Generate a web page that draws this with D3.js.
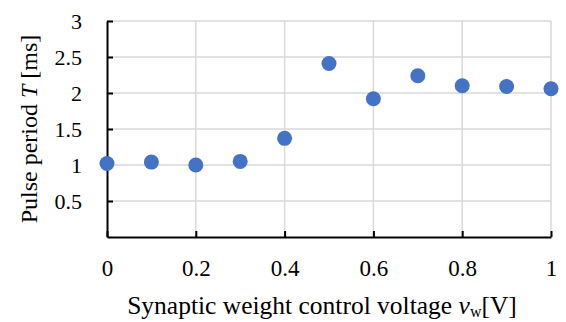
<!DOCTYPE html>
<html>
<head>
<meta charset="utf-8">
<script src="https://cdn.jsdelivr.net/npm/d3@7"></script>
<style>
  body { margin: 0; background: #fff; }
  text { font-family: "Liberation Serif", "Times New Roman", serif; fill: #000; }
</style>
</head>
<body>
<script>
// Datos
const voltajes = [0, 0.1, 0.2, 0.3, 0.4, 0.5, 0.6, 0.7, 0.8, 0.9, 1.0];
const periodos = [1.02, 1.04, 1.0, 1.05, 1.37, 2.41, 1.92, 2.24, 2.1, 2.09, 2.06];
const ticksX = [0, 0.2, 0.4, 0.6, 0.8, 1];
const ticksY = [0, 0.5, 1, 1.5, 2, 2.5, 3];

const WIDTH = 566;
const HEIGHT = 322;
const MARGIN = { top: 21, bottom: 85, left: 107, right: 15 };

const svg = d3.select("body")
  .append("svg")
  .attr("width", WIDTH)
  .attr("height", HEIGHT);

const escalaX = d3.scaleLinear().domain([0, 1]).range([MARGIN.left, WIDTH - MARGIN.right]);
const escalaY = d3.scaleLinear().domain([0, 3]).range([HEIGHT - MARGIN.bottom, MARGIN.top]);

// Grilla
svg.append("g")
  .selectAll("line")
  .data(ticksY.slice(1))
  .join("line")
  .attr("x1", escalaX(0))
  .attr("x2", escalaX(1))
  .attr("y1", (d) => escalaY(d))
  .attr("y2", (d) => escalaY(d))
  .attr("stroke", "#d9d9d9")
  .attr("stroke-width", 1.5);

svg.append("g")
  .selectAll("line")
  .data(ticksX.slice(1))
  .join("line")
  .attr("x1", (d) => escalaX(d))
  .attr("x2", (d) => escalaX(d))
  .attr("y1", escalaY(0))
  .attr("y2", escalaY(3))
  .attr("stroke", "#d9d9d9")
  .attr("stroke-width", 1.5);

// Ejes (ticks hacia adentro)
const ejeX = d3.axisBottom(escalaX).tickValues(ticksX).tickSizeInner(-6).tickSizeOuter(0)
  .tickPadding(23).tickFormat((d) => d3.format("")(d));
const gX = svg.append("g")
  .attr("transform", `translate(0, ${escalaY(0)})`)
  .call(ejeX);
gX.selectAll("text").attr("font-size", 23).attr("font-family", "Liberation Serif");

const ejeY = d3.axisLeft(escalaY).tickValues(ticksY.slice(1)).tickSizeInner(-6).tickSizeOuter(0)
  .tickPadding(25).tickFormat((d) => d3.format("")(d));
const gY = svg.append("g")
  .attr("transform", `translate(${escalaX(0)}, 0)`)
  .call(ejeY);
gY.selectAll("text").attr("font-size", 22).attr("font-family", "Liberation Serif");

[gX, gY].forEach((g) => {
  g.select(".domain").attr("stroke", "#000").attr("stroke-width", 2);
  g.selectAll(".tick line").attr("stroke", "#000").attr("stroke-width", 2);
});

// Puntos
svg.append("g")
  .selectAll("circle")
  .data(voltajes)
  .join("circle")
  .attr("cx", (d) => escalaX(d))
  .attr("cy", (d, i) => escalaY(periodos[i]))
  .attr("r", 7.5)
  .attr("fill", "#4472C4");

// Títulos de ejes
const tituloX = svg.append("text")
  .attr("x", 322)
  .attr("y", 314)
  .attr("text-anchor", "middle")
  .attr("font-size", 25.5);
tituloX.append("tspan").text("Synaptic weight control voltage ");
tituloX.append("tspan").attr("font-style", "italic").text("v");
tituloX.append("tspan").attr("font-size", 16).attr("dy", 3).text("w");
tituloX.append("tspan").attr("dy", -3).text("[V]");

const tituloY = svg.append("text")
  .attr("transform", `translate(37, 129) rotate(-90)`)
  .attr("text-anchor", "middle")
  .attr("font-size", 24);
tituloY.append("tspan").text("Pulse period ");
tituloY.append("tspan").attr("font-style", "italic").text("T");
tituloY.append("tspan").text(" [ms]");
</script>
</body>
</html>
